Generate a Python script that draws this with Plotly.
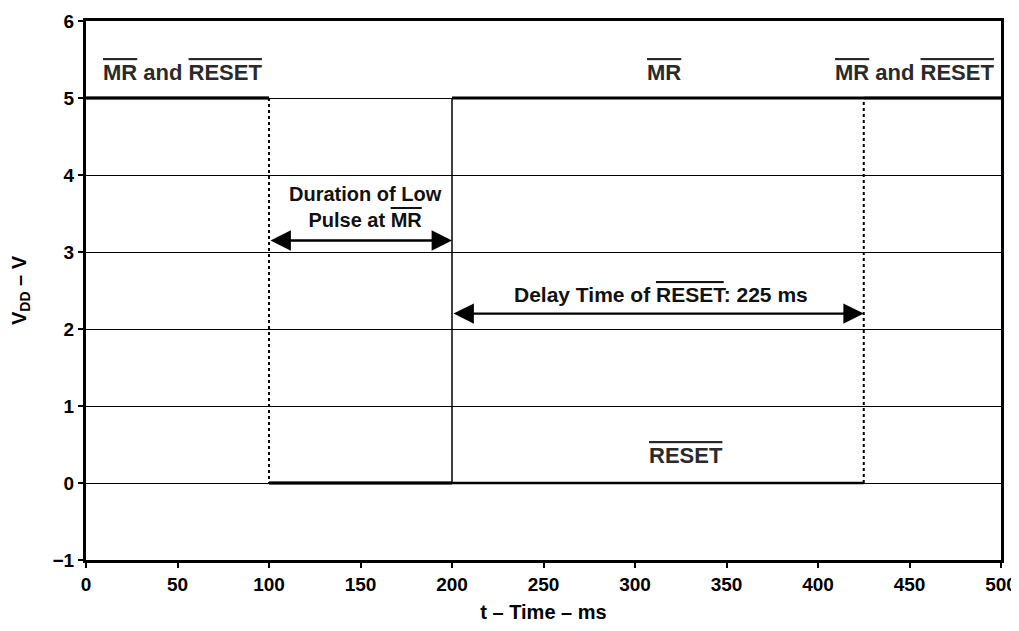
import plotly.graph_objects as go

# ---- data ----
mr_times = [0, 100, 200, 500]        # transition times of MR (ms)
mr_levels = [5, 0, 5]                # level in each interval (V)
reset_times = [0, 100, 425, 500]     # transition times of RESET (ms)
reset_levels = [5, 0, 5]

x_ticks = [0, 50, 100, 150, 200, 250, 300, 350, 400, 450, 500]
y_ticks = [-1, 0, 1, 2, 3, 4, 5, 6]

low_pulse = (100, 200, 3.15)     # start, end, level of arrow
delay = (200, 425, 2.2)

OL = '<span style="text-decoration:overline">%s</span>'
FONT = "Liberation Sans"

def horiz(times, levels):
    xs, ys = [], []
    for i, lv in enumerate(levels):
        xs += [times[i], times[i + 1], None]
        ys += [lv, lv, None]
    return xs, ys

def edges(times, levels, skip=()):
    xs, ys = [], []
    for i in range(1, len(levels)):
        if times[i] in skip:
            continue
        xs += [times[i], times[i], None]
        ys += [levels[i - 1], levels[i], None]
    return xs, ys

fig = go.Figure()

rx, ry = horiz(reset_times, reset_levels)
fig.add_trace(go.Scatter(x=rx, y=ry, mode="lines", line=dict(color="black", width=2.4), hoverinfo="skip"))
ex, ey = edges(reset_times, reset_levels)
fig.add_trace(go.Scatter(x=ex, y=ey, mode="lines", line=dict(color="black", width=2, dash="dot"), hoverinfo="skip"))
mx, my = horiz(mr_times, mr_levels)
fig.add_trace(go.Scatter(x=mx, y=my, mode="lines", line=dict(color="black", width=2.8), hoverinfo="skip"))
mex, mey = edges(mr_times, mr_levels, skip=(100,))
fig.add_trace(go.Scatter(x=mex, y=mey, mode="lines", line=dict(color="black", width=1.5), hoverinfo="skip"))

ann_font = dict(family=FONT, size=22, color="#2a2a2a", weight="bold")
body_font = dict(family=FONT, size=20, color="#111111", weight="bold")
delay_font = dict(family=FONT, size=21, color="#111111", weight="bold")
annotations = [
    dict(x=53, y=5.33, text=OL % "MR" + " and " + OL % "RESET"),
    dict(x=453, y=5.33, text=OL % "MR" + " and " + OL % "RESET"),
    dict(x=316, y=5.33, text=OL % "MR"),
    dict(x=328, y=0.36, text=OL % "RESET"),
    dict(x=153, y=3.59, text="Duration of Low<br>Pulse at " + OL % "MR", font=body_font),
    dict(x=314, y=2.45, text="Delay Time of " + OL % "RESET" + ": 225 ms", font=delay_font),
]
for a in annotations:
    a.setdefault("font", ann_font)
    a.update(xref="x", yref="y", showarrow=False)
    fig.add_annotation(**a)

for (a0, a1, lv) in (low_pulse, delay):
    fig.add_annotation(x=a1, y=lv, ax=a0, ay=lv, xref="x", yref="y", axref="x", ayref="y",
                       text="", showarrow=True, arrowside="end+start", arrowhead=2,
                       arrowsize=1.7, arrowwidth=2.4, arrowcolor="black", standoff=0, startstandoff=0)

axis_common = dict(showline=True, linecolor="black", linewidth=3, mirror=True,
                   ticks="outside", ticklen=5, tickwidth=1.5, tickcolor="black",
                   zeroline=False, automargin=False,
                   tickfont=dict(family=FONT, size=19, color="black", weight="bold"))

fig.update_xaxes(range=[0, 500], tickvals=x_ticks, showgrid=False,
                 title=dict(text="t – Time – ms", font=dict(family=FONT, size=20, color="black", weight="bold"), standoff=19),
                 **axis_common)
fig.update_yaxes(range=[-1, 6], tickvals=y_ticks, showgrid=True, gridcolor="black", gridwidth=1,
                 title=dict(text="V<sub>DD</sub> – V", font=dict(family=FONT, size=20, color="black", weight="bold"), standoff=30),
                 **axis_common)

# page body has an 8px margin; size/margins compensate for it
fig.update_layout(width=1011, height=615, margin=dict(l=78, r=18, t=13, b=63),
                  plot_bgcolor="white", paper_bgcolor="white", showlegend=False)

fig.write_html("out.html")
